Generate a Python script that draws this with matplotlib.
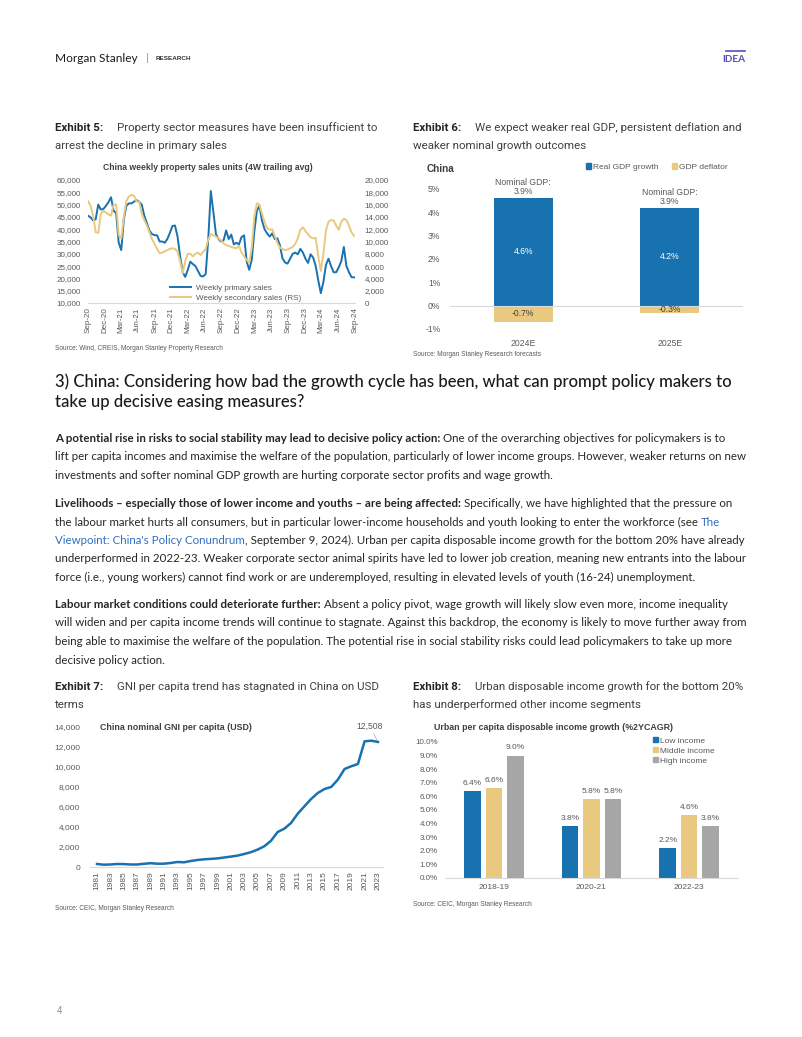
import matplotlib
matplotlib.use('Agg')
import matplotlib.pyplot as plt
import numpy as np
import pandas as pd
from matplotlib.patches import Patch
from matplotlib.lines import Line2D

# ---------------- data ----------------
# Exhibit 5: China weekly property sales units (4W trailing avg), bi-weekly readings from Sep-20
primary_sales = [45500, 44800, 43600, 44000, 50000, 48000, 48200, 49500, 51000, 53000,
                 47500, 46500, 34500, 31500, 44000, 49500, 50500, 50500, 51200, 51800,
                 51200, 50000, 45500, 42500, 39500, 38000, 37600, 37500, 35000, 35000,
                 34500, 36000, 38500, 41300, 41500, 37000, 29000, 22500, 20600, 23500,
                 26800, 25800, 25000, 23000, 21000, 20800, 21800, 36000, 55500, 47000,
                 38000, 36000, 35000, 35500, 39500, 36000, 37800, 33800, 34500, 33800,
                 36800, 37500, 27000, 23500, 27500, 39000, 47500, 49500, 43500, 40000,
                 38300, 37000, 38300, 36000, 36300, 33500, 28200, 26500, 26000, 28000,
                 30000, 30500, 29800, 32000, 30500, 28000, 26300, 29800, 28500, 25000,
                 19200, 14000, 18500, 25500, 28000, 25000, 22500, 22500, 24500, 27000,
                 32800, 25000, 22500, 20500, 20400]
secondary_sales = [16600, 15800, 14200, 11500, 11400, 14500, 15000, 14700, 14400, 14200,
                   16000, 16000, 11000, 10500, 14000, 16600, 17300, 17600, 17400, 16500,
                   16500, 14500, 13500, 12600, 11500, 10400, 9600, 8800, 8100, 8200,
                   8400, 8600, 8800, 8900, 8800, 8400, 6800, 4800, 6800, 8000,
                   8000, 7600, 8000, 8200, 7800, 8300, 8800, 10300, 11200, 11000,
                   10800, 10500, 10200, 9700, 9400, 9300, 9100, 9000, 8900, 9300,
                   8200, 7600, 7000, 6600, 9000, 14000, 16200, 16000, 14500, 13200,
                   12200, 11900, 12000, 10900, 9800, 9000, 8800, 8600, 8700, 8900,
                   9100, 9600, 10500, 11900, 12300, 11700, 11200, 10700, 10500, 10600,
                   7600, 5200, 8000, 11800, 13200, 13500, 13400, 12600, 11900, 13200,
                   13700, 13500, 12600, 11500, 10900]
sales_start = '2020-09-01'
sales_end = '2024-09-01'

# Exhibit 6
gdp_years = ['2024E', '2025E']
real_gdp_growth = [4.6, 4.2]
gdp_deflator = [-0.7, -0.3]
nominal_gdp = [3.9, 3.9]

# Exhibit 7
gni_years = list(range(1981, 2024))
gni_per_capita = [300, 230, 250, 300, 290, 250, 250, 320, 380, 330,
                  330, 400, 500, 470, 600, 700, 770, 810, 860, 950,
                  1040, 1140, 1300, 1480, 1740, 2070, 2620, 3500, 3830, 4400,
                  5330, 6070, 6800, 7400, 7800, 8000, 8730, 9800, 10070, 10300,
                  12570, 12630, 12508]

# Exhibit 8
income_periods = ['2018-19', '2020-21', '2022-23']
low_income = [6.4, 3.8, 2.2]
middle_income = [6.6, 5.8, 4.6]
high_income = [9.0, 5.8, 3.8]

# ---------------- style ----------------
BLUE = '#1872b0'
GOLD = '#e8c97f'
GREY = '#a6a6a6'
TXT = '#595959'
DARK = '#262626'
LINK = '#2f6fc4'
BODY = ['Liberation Sans Narrow', 'Lato', 'DejaVu Sans']
TITLEF = ['Roboto', 'DejaVu Sans']
CHART = ['Liberation Sans', 'DejaVu Sans']

W, H = 802, 1037
fig = plt.figure(figsize=(W / 100, H / 100), dpi=100)
fig.patch.set_facecolor('white')
R = fig.canvas.get_renderer()


def put(x, y, s, **kw):
    kw.setdefault('va', 'baseline')
    return fig.text(x / W, 1 - y / H, s, **kw)


def wid(t):
    return t.get_window_extent(R).width


def measure(s, **kw):
    t = put(0, 0, s, **kw)
    w = wid(t)
    t.remove()
    return w


def fit(s, width, **kw):
    return 10 * width / measure(s, fontsize=10, **kw)


def line(x, y, segs, size, family):
    cx = x
    for s, weight, color in segs:
        t = put(cx, y, s, fontsize=size, fontweight=weight, color=color, family=family)
        cx += wid(t)


# fitted font sizes
body_size = fit('lift per capita incomes and maximise the welfare of the population, particularly of lower income groups. However, weaker returns on new',
                746 - 55, family=BODY)
head_size = fit('3) China: Considering how bad the growth cycle has been, what can prompt policy makers to',
                736 - 55, family=BODY, fontweight='medium')
ttl_size = fit('Property sector measures have been insufficient to', 378 - 117, family=TITLEF)

# ---------------- header ----------------
ms = put(55, 62, 'Morgan Stanley', fontsize=8.6, family=BODY, color='#1a1a1a')
bar_x = 55 + wid(ms) + 8
put(bar_x, 61, '|', fontsize=8, family=CHART, color='#999999')
put(bar_x + 10, 60, 'RESEARCH', fontsize=4.6, family=CHART, fontweight='bold', color='#333333')
put(745, 62, 'IDEA', fontsize=7.2, family=BODY, fontweight='bold', color='#5050b8', ha='right')
fig.add_artist(Line2D([726 / W, 745 / W], [1 - 51 / H, 1 - 51 / H], color='#5050b8', lw=1.2))
put(57, 1014, '4', fontsize=7, family=CHART, color='#8c8c8c')


def exhibit_title(x, y, num, l1, l2):
    put(x, y, f'Exhibit {num}:', fontsize=ttl_size, family=TITLEF, fontweight='bold', color=DARK)
    put(x + 62, y, l1, fontsize=ttl_size, family=TITLEF, color='#404040')
    put(x, y + 18, l2, fontsize=ttl_size, family=TITLEF, color='#404040')


exhibit_title(55, 131, 5, 'Property sector measures have been insufficient to',
              'arrest the decline in primary sales')
exhibit_title(413, 131, 6, 'We expect weaker real GDP, persistent deflation and',
              'weaker nominal growth outcomes')
exhibit_title(55, 690, 7, 'GNI per capita trend has stagnated in China on USD', 'terms')
exhibit_title(413, 690, 8, 'Urban disposable income growth for the bottom 20%',
              'has underperformed other income segments')

SRC = dict(fontsize=4.7, family=CHART, color=TXT, va='center')
put(55, 348, 'Source: Wind, CREIS, Morgan Stanley Property Research', **SRC)
put(413, 354, 'Source: Morgan Stanley Research forecasts', **SRC)
put(55, 908, 'Source: CEIC, Morgan Stanley Research', **SRC)
put(413, 905, 'Source: CEIC, Morgan Stanley Research', **SRC)

# ---------------- heading & body ----------------
put(55, 387, '3) China: Considering how bad the growth cycle has been, what can prompt policy makers to',
    fontsize=head_size, family=BODY, fontweight='medium', color='#1a1a1a')
put(55, 407, 'take up decisive easing measures?', fontsize=head_size, family=BODY,
    fontweight='medium', color='#1a1a1a')

B, N = 'bold', 'normal'
paras = [
    (442, [
        [('A potential rise in risks to social stability may lead to decisive policy action:', B, DARK),
         (' One of the overarching objectives for policymakers is to', N, DARK)],
        [('lift per capita incomes and maximise the welfare of the population, particularly of lower income groups. However, weaker returns on new', N, DARK)],
        [('investments and softer nominal GDP growth are hurting corporate sector profits and wage growth.', N, DARK)],
    ]),
    (507, [
        [('Livelihoods \u2013 especially those of lower income and youths \u2013 are being affected:', B, DARK),
         (' Specifically, we have highlighted that the pressure on', N, DARK)],
        [('the labour market hurts all consumers, but in particular lower-income households and youth looking to enter the workforce (see ', N, DARK),
         ('The', N, LINK)],
        [("Viewpoint: China's Policy Conundrum", N, LINK),
         (', September 9, 2024). Urban per capita disposable income growth for the bottom 20% have already', N, DARK)],
        [('underperformed in 2022-23. Weaker corporate sector animal spirits have led to lower job creation, meaning new entrants into the labour', N, DARK)],
        [('force (i.e., young workers) cannot find work or are underemployed, resulting in elevated levels of youth (16-24) unemployment.', N, DARK)],
    ]),
    (608, [
        [('Labour market conditions could deteriorate further:', B, DARK),
         (' Absent a policy pivot, wage growth will likely slow even more, income inequality', N, DARK)],
        [('will widen and per capita income trends will continue to stagnate. Against this backdrop, the economy is likely to move further away from', N, DARK)],
        [('being able to maximise the welfare of the population. The potential rise in social stability risks could lead policymakers to take up more', N, DARK)],
        [('decisive policy action.', N, DARK)],
    ]),
]
for y0, lines in paras:
    for i, segs in enumerate(lines):
        line(55, y0 + i * 18.5, segs, body_size, BODY)


def clean(ax, keep_bottom=True):
    for s in ['top', 'right', 'left']:
        ax.spines[s].set_visible(False)
    ax.spines['bottom'].set_visible(keep_bottom)
    ax.spines['bottom'].set_color('#d9d9d9')
    ax.spines['bottom'].set_linewidth(0.8)
    ax.tick_params(axis='both', length=0, labelsize=5.8, labelcolor=TXT)
    for lab in ax.get_xticklabels() + ax.get_yticklabels():
        lab.set_family(CHART)


# ---------------- Exhibit 5 ----------------
ax5 = fig.add_axes([88 / W, 1 - 303 / H, 267 / W, 123 / H])
dates5 = pd.date_range(sales_start, periods=len(primary_sales), freq='14D')
l1, = ax5.plot(dates5, primary_sales, color=BLUE, lw=1.4)
ax5.set_ylim(10000, 60000)
ax5.set_yticks(range(10000, 60001, 5000))
ax5.set_yticklabels([f'{v:,}' for v in range(10000, 60001, 5000)])
ticks5 = pd.date_range(sales_start, sales_end, freq='3MS')
ax5.set_xticks(ticks5)
ax5.set_xticklabels([d.strftime('%b-%y') for d in ticks5], rotation=90)
ax5.set_xlim(pd.Timestamp(sales_start), pd.Timestamp(sales_end))
ax5r = ax5.twinx()
l2, = ax5r.plot(dates5, secondary_sales, color=GOLD, lw=1.4)
ax5r.set_ylim(0, 20000)
ax5r.set_yticks(range(0, 20001, 2000))
ax5r.set_yticklabels([f'{v:,}' for v in range(0, 20001, 2000)])
clean(ax5)
clean(ax5r, keep_bottom=False)
ax5.tick_params(axis='y', pad=5)
ax5.tick_params(axis='x', pad=3)
ax5r.tick_params(axis='y', pad=7)
for lab in ax5r.get_yticklabels():
    lab.set_family(CHART)
ax5r.legend([l1, l2], ['Weekly primary sales', 'Weekly secondary sales (RS)'],
            loc='lower left', bbox_to_anchor=(0.285, -0.04), frameon=False,
            prop={'family': CHART, 'size': 5.8}, labelcolor=TXT,
            handlelength=2.6, handletextpad=0.6, labelspacing=0.35, borderpad=0.2)
put(208, 167, 'China weekly property sales units (4W trailing avg)', fontsize=6.2,
    family=CHART, fontweight='bold', color='#404040', ha='center', va='center')

# ---------------- Exhibit 6 ----------------
ax6 = fig.add_axes([450 / W, 1 - 329 / H, 293 / W, 140 / H])
x6 = np.arange(len(gdp_years))
ax6.bar(x6, real_gdp_growth, width=0.40, color=BLUE)
ax6.bar(x6, gdp_deflator, width=0.40, color=GOLD)
ax6.axhline(0, color='#d9d9d9', lw=0.8)
ax6.set_xlim(-0.5, 1.5)
ax6.set_ylim(-1, 5)
ax6.set_yticks(range(-1, 6))
ax6.set_yticklabels([f'{v}%' for v in range(-1, 6)])
ax6.set_xticks(x6)
ax6.set_xticklabels(gdp_years)
clean(ax6, keep_bottom=False)
ax6.tick_params(axis='both', labelsize=6.2)
ax6.tick_params(axis='y', pad=7)
ax6.tick_params(axis='x', pad=7)
for xi, r, d, n in zip(x6, real_gdp_growth, gdp_deflator, nominal_gdp):
    ax6.text(xi, r / 2, f'{r:.1f}%', ha='center', va='center', color='white',
             fontsize=6.2, family=CHART)
    ax6.text(xi, d / 2, f'{d:.1f}%', ha='center', va='center', color='#404040',
             fontsize=6.2, family=CHART)
    ax6.annotate(f'Nominal GDP:\n{n:.1f}%', (xi, r), xytext=(0, 1.5), textcoords='offset points',
                 ha='center', va='bottom', color=TXT, fontsize=6.2, family=CHART, linespacing=1.0)
put(427, 169, 'China', fontsize=7.2, family=CHART, fontweight='bold', color='#404040', va='center')
ax6.legend([Patch(color=BLUE), Patch(color=GOLD)], ['Real GDP growth', 'GDP deflator'],
           loc='center left', bbox_to_anchor=((586 - 450) / 293, (329 - 167) / 140),
           ncol=2, frameon=False, prop={'family': CHART, 'size': 6}, labelcolor=TXT,
           handlelength=0.6, handleheight=0.6, handletextpad=0.25, columnspacing=1.6,
           borderpad=0, borderaxespad=0)

# ---------------- Exhibit 7 ----------------
ax7 = fig.add_axes([90 / W, 1 - 867 / H, 293 / W, 140 / H])
ax7.plot(gni_years, gni_per_capita, color=BLUE, lw=1.8)
ax7.set_ylim(0, 14000)
ax7.set_xlim(1979.95, 2023.75)
ax7.set_yticks(range(0, 14001, 2000))
ax7.set_yticklabels([f'{v:,}' for v in range(0, 14001, 2000)])
ax7.set_xticks(gni_years[::2])
ax7.set_xticklabels([str(y) for y in gni_years[::2]], rotation=90)
clean(ax7)
ax7.tick_params(axis='both', labelsize=6)
ax7.tick_params(axis='y', pad=7)
ax7.tick_params(axis='x', pad=3)
ax7.annotate(f'{gni_per_capita[-1]:,}', (gni_years[-1], gni_per_capita[-1]),
             xytext=(-6, 8), textcoords='offset points', ha='center', va='bottom',
             color=TXT, fontsize=6.2, family=CHART,
             arrowprops=dict(arrowstyle='-', color='#a6a6a6', lw=0.5, shrinkA=0, shrinkB=1))
put(100, 727, 'China nominal GNI per capita (USD)', fontsize=6.4, family=CHART,
    fontweight='bold', color='#404040', va='center')

# ---------------- Exhibit 8 ----------------
ax8 = fig.add_axes([445 / W, 1 - 878 / H, 293 / W, 136 / H])
x8 = np.arange(len(income_periods))
bw = 0.17
for off, vals, col in [(-0.22, low_income, BLUE), (0, middle_income, GOLD), (0.22, high_income, GREY)]:
    ax8.bar(x8 + off, vals, width=bw, color=col)
    for xi, v in zip(x8 + off, vals):
        ax8.annotate(f'{v:.1f}%', (xi, v), xytext=(0, 3), textcoords='offset points',
                     ha='center', va='bottom', color=TXT, fontsize=6, family=CHART)
ax8.set_xlim(-0.5, 2.5)
ax8.set_ylim(0, 10)
ax8.set_yticks(np.arange(0, 10.01, 1))
ax8.set_yticklabels([f'{v:.1f}%' for v in np.arange(0, 10.01, 1)])
ax8.set_xticks(x8)
ax8.set_xticklabels(income_periods)
clean(ax8)
ax8.tick_params(axis='y', pad=5)
ax8.tick_params(axis='x', pad=4, labelsize=6)
ax8.legend([Patch(color=BLUE), Patch(color=GOLD), Patch(color=GREY)],
           ['Low income', 'Middle income', 'High income'],
           loc='upper left', bbox_to_anchor=((653 - 445) / 293, (878 - 737) / 136),
           frameon=False, prop={'family': CHART, 'size': 6}, labelcolor=TXT,
           handlelength=0.6, handleheight=0.6, handletextpad=0.2, labelspacing=0.3,
           borderpad=0, borderaxespad=0)
put(434, 727, 'Urban per capita disposable income growth (%2YCAGR)', fontsize=6.4,
    family=CHART, fontweight='bold', color='#404040', va='center')

fig.savefig('out.png', dpi=100, facecolor='white')
